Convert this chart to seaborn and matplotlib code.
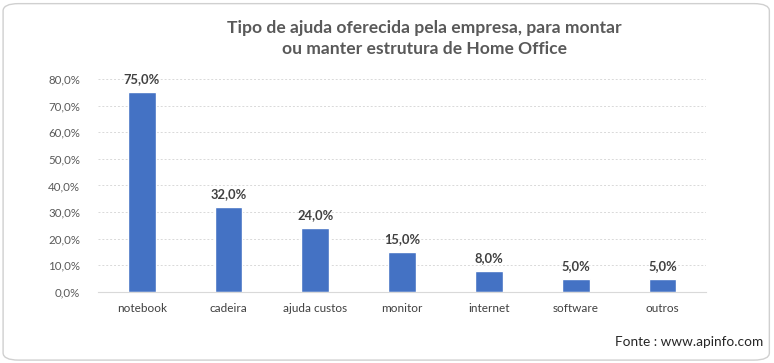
import matplotlib
matplotlib.use('Agg')
import matplotlib.pyplot as plt
import seaborn as sns
import pandas as pd
from matplotlib.patches import FancyBboxPatch
from matplotlib.ticker import FuncFormatter

categories = ['notebook', 'cadeira', 'ajuda custos', 'monitor', 'internet', 'software', 'outros']
values = [75.0, 32.0, 24.0, 15.0, 8.0, 5.0, 5.0]

TITLE = 'Tipo de ajuda oferecida pela empresa, para montar\nou manter estrutura de Home Office'
SOURCE = 'Fonte : www.apinfo.com'


def pct(v):
    return f'{v:.1f}%'.replace('.', ',')


def plot_chart(df):
    sns.set_style('white')
    plt.rcParams['font.family'] = ['Lato', 'DejaVu Sans']
    fig = plt.figure(figsize=(7.74, 3.63), dpi=100)
    ax = fig.add_axes([0.127, 0.196, 0.785, 0.586])

    sns.barplot(x='cat', y='val', data=df, color='#4472C4', width=0.32,
                saturation=1, ax=ax)
    ax.set_ylim(0, 80)
    ax.set_yticks(range(0, 81, 10))
    ax.yaxis.set_major_formatter(FuncFormatter(lambda v, _: pct(v)))
    ax.grid(axis='y', color='#D9D9D9', linestyle=(0, (2, 2)), linewidth=0.7)
    ax.set_axisbelow(True)
    for s in ['top', 'right', 'left']:
        ax.spines[s].set_visible(False)
    ax.spines['bottom'].set_color('#D9D9D9')
    ax.tick_params(axis='y', length=0, labelsize=8.3, labelcolor='#595959', pad=13)
    ax.tick_params(axis='x', length=0, labelsize=8.5, labelcolor='#404040', pad=8)
    ax.set_xlabel('')
    ax.set_ylabel('')

    for i, v in enumerate(df['val']):
        ax.annotate(pct(v), (i, v), xytext=(0, 5), textcoords='offset points',
                    ha='center', va='bottom', fontsize=9.3, fontweight='bold',
                    color='#404040')

    fig.text(0.548, 0.895, TITLE, ha='center', va='center', fontsize=12.6,
             fontweight='bold', color='#595959', linespacing=1.4)
    fig.text(0.986, 0.058, SOURCE, ha='right', va='center', fontsize=9.8,
             color='#262626')

    border = FancyBboxPatch((0.004, 0.008), 0.99, 0.982, transform=fig.transFigure,
                            boxstyle='round,pad=0,rounding_size=0.02',
                            facecolor='none', edgecolor='#D0D0D0', linewidth=1)
    fig.patches.append(border)
    fig.savefig('out.png', dpi=100)


df = pd.DataFrame({'cat': categories, 'val': values})
plot_chart(df)
